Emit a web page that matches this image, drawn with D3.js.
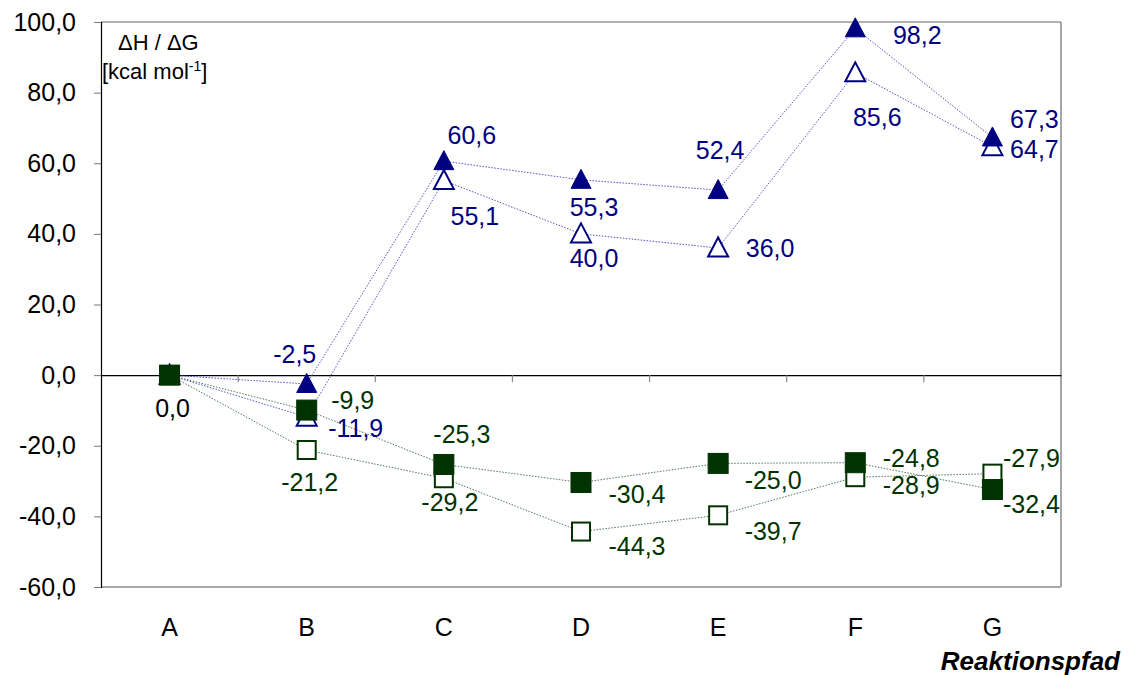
<!DOCTYPE html>
<html>
<head>
<meta charset="utf-8">
<script src="https://cdn.jsdelivr.net/npm/d3@7"></script>
<style>
  body { margin: 0; background: #fff; }
  svg { display: block; font-family: "Liberation Sans", Arial, sans-serif; }
</style>
</head>
<body>
<svg id="chart" width="1128" height="675"></svg>
<script>
// Reaction path steps
const categories = ["A", "B", "C", "D", "E", "F", "G"];

// Energies in kcal/mol
const dHTriangle = [0.0, -2.5, 60.6, 55.3, 52.4, 98.2, 67.3];   // filled triangles
const dGTriangle = [0.0, -11.9, 55.1, 40.0, 36.0, 85.6, 64.7];  // open triangles
const dHSquare   = [0.0, -9.9, -25.3, -30.4, -25.0, -24.8, -32.4]; // filled squares
const dGSquare   = [0.0, -21.2, -29.2, -44.3, -39.7, -28.9, -27.9]; // open squares

const yTicks = [-60, -40, -20, 0, 20, 40, 60, 80, 100];

// Label placement relative to each point (px); the shared start value is labelled once
const offFilledTri = [null, [-12, -30], [28, -26], [13, 27], [2, -40], [62, 7], [42, -18]];
const offOpenTri   = [null, [49, 11], [31, 35], [13, 24], [52, 0], [22, 44], [42, 2]];
const offFilledSq  = [[3, 33], [46, -10], [18, -30], [56, 12], [55, 17], [56, -5], [39, 14]];
const offOpenSq    = [null, [3, 32], [6, 24], [56, 14], [55, 16], [56, 8], [39, -16]];

const navy = "#000080";
const green = "#003300";
const fontSize = 25;

const svg = d3.select("#chart");
const plotLeft = 101, plotRight = 1061, plotTop = 22, plotBottom = 587;

const x = d3.scaleBand().domain(categories).range([plotLeft, plotRight]).paddingInner(0).paddingOuter(0);
const cx = c => x(c) + x.bandwidth() / 2;
const y = d3.scaleLinear().domain([-60, 100]).range([plotBottom, plotTop]);

const fmt = v => d3.format(".1f")(v).replace(".", ",").replace("−", "-");

// plot frame
svg.append("line").attr("x1", plotLeft).attr("x2", plotRight).attr("y1", plotTop).attr("y2", plotTop)
  .attr("stroke", "#999").attr("stroke-width", 1.5);
svg.append("line").attr("x1", plotRight).attr("x2", plotRight).attr("y1", plotTop).attr("y2", plotBottom)
  .attr("stroke", "#888").attr("stroke-width", 1.5);
svg.append("line").attr("x1", plotLeft).attr("x2", plotRight).attr("y1", plotBottom).attr("y2", plotBottom)
  .attr("stroke", "#aaa").attr("stroke-width", 2);

// y axis
const yAxis = svg.append("g").attr("transform", `translate(${plotLeft},0)`)
  .call(d3.axisLeft(y).tickValues(yTicks).tickSize(7).tickPadding(18).tickFormat(fmt));
yAxis.select(".domain").attr("stroke", "#000").attr("stroke-width", 1.2);
yAxis.selectAll(".tick line").attr("stroke", "#777");
yAxis.selectAll(".tick text").attr("font-size", fontSize).attr("fill", "#000")
  .attr("font-family", "Liberation Sans, Arial, sans-serif");

// zero line with category separators
const xAxis = svg.append("g").attr("transform", `translate(0,${y(0)})`)
  .call(d3.axisBottom(x).tickSize(0).tickFormat(""));
xAxis.select(".domain").attr("stroke", "#000").attr("stroke-width", 1.2);
xAxis.selectAll(".tick").remove();
svg.append("g").selectAll("line").data(categories.slice(1)).join("line")
  .attr("x1", d => x(d)).attr("x2", d => x(d))
  .attr("y1", y(0)).attr("y2", y(0) + 7)
  .attr("stroke", "#888").attr("stroke-width", 1.2);

// category labels
svg.append("g").selectAll("text").data(categories).join("text")
  .attr("x", d => cx(d)).attr("y", 636)
  .attr("text-anchor", "middle").attr("font-size", fontSize).attr("fill", "#000")
  .text(d => d);

// axis titles
svg.append("text").attr("x", 1120).attr("y", 670).attr("text-anchor", "end")
  .attr("font-size", 26).attr("font-weight", "bold").attr("font-style", "italic")
  .text("Reaktionspfad");
svg.append("text").attr("x", 118).attr("y", 50).attr("font-size", 22).text("ΔH / ΔG");
const unit = svg.append("text").attr("x", 102).attr("y", 79).attr("font-size", 22);
unit.append("tspan").text("[kcal mol");
unit.append("tspan").attr("font-size", 14).attr("dy", -8).text("-1");
unit.append("tspan").attr("dy", 8).text("]");

// series, in drawing order
const series = [
  { values: dGTriangle, shape: "tri", filled: false, color: navy, lineColor: "#5555cc", offs: offOpenTri },
  { values: dHTriangle, shape: "tri", filled: true,  color: navy, lineColor: "#5555cc", offs: offFilledTri },
  { values: dGSquare,   shape: "sq",  filled: false, color: green, lineColor: "#557755", offs: offOpenSq },
  { values: dHSquare,   shape: "sq",  filled: true,  color: green, lineColor: "#557755", offs: offFilledSq }
];

const line = d3.line().x((d, i) => cx(categories[i])).y(d => y(d));

series.forEach(s => {
  svg.append("path").datum(s.values).attr("d", line)
    .attr("fill", "none").attr("stroke", s.lineColor).attr("stroke-width", 1)
    .attr("stroke-dasharray", "1.5,1.5");
});

series.forEach(s => {
  const g = svg.append("g");
  s.values.forEach((v, i) => {
    const px = cx(categories[i]), py = y(v);
    if (s.shape === "tri") {
      const h = 19, w = 20;
      const pts = [[px, py - h / 2 - 1], [px + w / 2, py + h / 2 - 1], [px - w / 2, py + h / 2 - 1]];
      g.append("polygon").attr("points", pts.map(p => p.join(",")).join(" "))
        .attr("fill", s.filled ? s.color : "#fff")
        .attr("stroke", s.color).attr("stroke-width", s.filled ? 1 : 2)
        .attr("stroke-linejoin", "miter");
    } else {
      const a = s.filled ? 20 : 18;
      g.append("rect").attr("x", px - a / 2).attr("y", py - a / 2)
        .attr("width", a).attr("height", a)
        .attr("fill", s.filled ? s.color : "#fff")
        .attr("stroke", s.color).attr("stroke-width", s.filled ? 1 : 2);
    }
  });
});

// value labels
series.forEach(s => {
  s.values.forEach((v, i) => {
    const o = s.offs[i];
    if (!o) return;
    svg.append("text")
      .attr("x", cx(categories[i]) + o[0]).attr("y", y(v) + o[1])
      .attr("text-anchor", "middle").attr("dominant-baseline", "central")
      .attr("font-size", fontSize)
      .attr("fill", i === 0 ? "#000" : s.color)
      .text(fmt(v));
  });
});
</script>
</body>
</html>
